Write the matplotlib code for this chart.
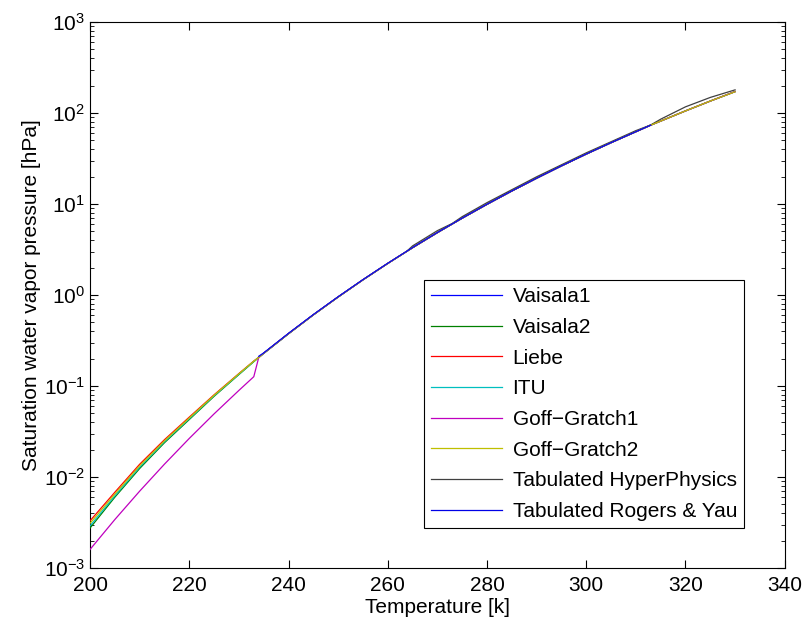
import matplotlib
matplotlib.use('Agg')
import matplotlib.pyplot as plt
from matplotlib.ticker import LogLocator, NullLocator, FixedLocator

plt.rcParams['font.family'] = ['Liberation Sans', 'DejaVu Sans']

# Saturation vapour pressure [hPa] against temperature [K]
t_full = [200, 205, 210, 215, 220, 225, 230, 233, 234, 235, 240, 245, 250, 255,
          260, 265, 270, 275, 280, 285, 290, 295, 300, 305, 310, 313, 315, 320,
          325, 330]
liebe = [0.0033, 0.0068, 0.0138, 0.0257, 0.0455, 0.0800, 0.1370, 0.188, 0.207,
         0.229, 0.376, 0.605, 0.951, 1.468, 2.222, 3.308, 4.843, 6.98, 9.91,
         13.88, 19.18, 26.20, 35.35, 47.13, 62.2, 73.5, 81.4, 105.3, 135.1, 171.9]
goff_gratch2 = [0.0031, 0.0065, 0.0133, 0.0250, 0.0445, 0.0790, 0.1360, 0.187,
                0.206, 0.229, 0.376, 0.605, 0.951, 1.468, 2.222, 3.308, 4.843,
                6.98, 9.91, 13.88, 19.18, 26.20, 35.35, 47.13, 62.2, 73.5, 81.4,
                105.3, 135.1, 171.0]
itu = [0.0029, 0.0062, 0.0128, 0.0244, 0.0436, 0.0780, 0.1345, 0.186, 0.206,
       0.228, 0.375, 0.604, 0.950, 1.467, 2.221, 3.307, 4.842, 6.98, 9.91,
       13.88, 19.18, 26.20, 35.35, 47.13, 62.2, 73.5, 81.4, 105.3, 135.1, 171.5]
vaisala2 = [0.00275, 0.0060, 0.0124, 0.0238, 0.0428, 0.0770, 0.1335, 0.185,
            0.205, 0.228, 0.375, 0.604, 0.950, 1.467, 2.221, 3.307, 4.842, 6.98,
            9.91, 13.88, 19.18, 26.20, 35.35, 47.13, 62.2, 73.5, 81.4, 105.3,
            135.1, 171.5]
goff_gratch1 = [0.00160, 0.00341, 0.00699, 0.01384, 0.02654, 0.0494, 0.0894,
                0.1265, 0.206, 0.229, 0.376, 0.605, 0.951, 1.468, 2.222, 3.308,
                4.843, 6.98, 9.91, 13.88, 19.18, 26.20, 35.35, 47.13, 62.2, 73.5,
                81.4, 105.3, 135.1, 171.5]

t_vaisala1 = [234, 235, 240, 245, 250, 255, 260, 265, 270, 275, 280, 285, 290,
              295, 300, 305, 310, 313]
vaisala1 = [0.212, 0.231, 0.379, 0.609, 0.956, 1.474, 2.230, 3.318, 4.855, 6.99,
            9.93, 13.90, 19.20, 26.22, 35.37, 47.15, 62.2, 73.5]

t_hyper = [264, 265, 270, 273, 275, 280, 285, 290, 295, 300, 305, 310, 313, 315,
           320, 325, 330]
hyperphysics = [3.08, 3.46, 5.09, 6.11, 7.25, 10.34, 14.34, 19.89, 26.92, 36.45,
                48.26, 63.93, 73.8, 85.4, 116.7, 148.1, 179.4]

t_rogers = [235, 240, 245, 250, 255, 260, 265, 270, 275, 280, 285, 290, 295,
            300, 305, 310, 313]
rogers_yau = [0.229, 0.376, 0.605, 0.951, 1.468, 2.222, 3.308, 4.843, 6.98,
              9.91, 13.88, 19.18, 26.20, 35.35, 47.13, 62.2, 73.5]

fig = plt.figure(figsize=(8.04, 6.27), dpi=100)
ax = fig.add_axes([0.112, 0.0941, 0.864, 0.8709])

lw = 0.9
ax.plot(t_vaisala1, vaisala1, color=(0, 0, 1), lw=lw, label='Vaisala1', zorder=9)
ax.plot(t_full, vaisala2, color=(0, 0.5, 0), lw=lw, label='Vaisala2', zorder=3)
ax.plot(t_full, liebe, color=(1, 0, 0), lw=lw, label='Liebe', zorder=4)
ax.plot(t_full, itu, color=(0, 0.75, 0.75), lw=lw, label='ITU', zorder=5)
ax.plot(t_full, goff_gratch1, color=(0.75, 0, 0.75), lw=lw, label='Goff\u2212Gratch1', zorder=6)
ax.plot(t_full, goff_gratch2, color=(0.75, 0.75, 0), lw=lw, label='Goff\u2212Gratch2', zorder=7)
ax.plot(t_hyper, hyperphysics, color=(0.25, 0.25, 0.25), lw=lw, label='Tabulated HyperPhysics', zorder=6.5)
ax.plot(t_rogers, rogers_yau, color=(0, 0, 0.9), lw=lw, label='Tabulated Rogers & Yau', zorder=2)

ax.set_yscale('log')
ax.set_xlim(200, 340)
ax.set_ylim(1e-3, 1e3)
ax.xaxis.set_major_locator(FixedLocator(range(200, 341, 20)))
ax.xaxis.set_minor_locator(NullLocator())
ax.yaxis.set_major_locator(LogLocator(base=10, numticks=10))
ax.yaxis.set_minor_locator(LogLocator(base=10, subs=range(2, 10), numticks=10))

ax.tick_params(which='both', direction='in', top=True, right=True, labelsize=15)
ax.tick_params(which='major', length=6, width=0.8)
ax.tick_params(which='minor', length=3, width=0.6)
ax.tick_params(axis='x', pad=6)
for s in ax.spines.values():
    s.set_linewidth(0.8)

ax.set_xlabel('Temperature [k]', fontsize=15, labelpad=2)
ax.set_ylabel('Saturation water vapor pressure [hPa]', fontsize=15, labelpad=2)

leg = ax.legend(loc='lower right', bbox_to_anchor=(0.942, 0.073), fontsize=15,
                frameon=True, fancybox=False, handlelength=3.4, handletextpad=0.5,
                labelspacing=0.56, borderpad=0.35, borderaxespad=0)
leg.get_frame().set_edgecolor('black')
leg.get_frame().set_linewidth(0.8)
leg.get_frame().set_alpha(1)

fig.savefig('out.png', dpi=100)
